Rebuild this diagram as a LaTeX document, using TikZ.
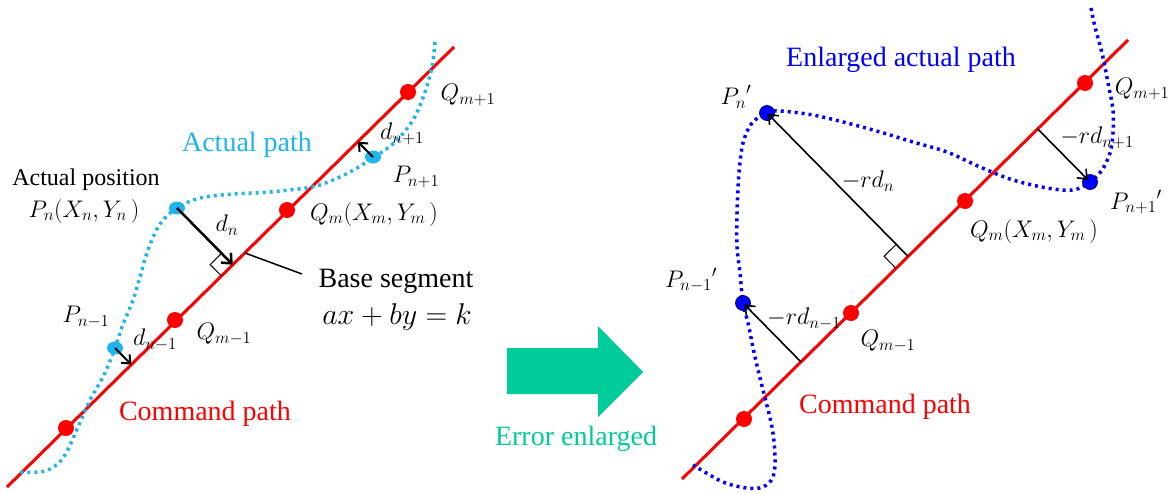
\documentclass[tikz,border=0pt]{standalone}
\usepackage{fix-cm}
\usepackage{fontspec}
\setmainfont{Liberation Serif}
\usetikzlibrary{arrows.meta,calc,shapes.geometric}
\definecolor{cmdred}{RGB}{255,0,0}
\definecolor{actblue}{RGB}{30,180,240}
\definecolor{enlblue}{RGB}{0,0,255}
\definecolor{arrteal}{RGB}{0,204,153}
\tikzset{
  lab/.style={font=\fontsize{24}{28}\selectfont, inner sep=0pt},
  big/.style={font=\fontsize{28}{32}\selectfont, inner sep=0pt},
  rdot/.style={circle, fill=cmdred, minimum size=16pt, inner sep=0pt},
  cdot/.style={ellipse, fill=actblue, minimum width=16pt, minimum height=13pt, inner sep=0pt},
  bdot/.style={circle, fill=enlblue, draw=black!60!blue, line width=0.8pt, minimum size=15pt, inner sep=0pt},
  cmdline/.style={draw=cmdred, line width=3pt},
  actcurve/.style={draw=actblue, line width=3.5pt, dash pattern=on 3pt off 4pt},
  enlcurve/.style={draw=enlblue, line width=3.5pt, dash pattern=on 3pt off 4pt},
  thickarr/.style={draw=black, line width=2.5pt, -{Straight Barb[length=8pt,width=14pt]}},
  midarr/.style={draw=black, line width=2pt, -{Straight Barb[length=7pt,width=12pt]}},
  thinarr/.style={draw=black, line width=1.6pt, -{Straight Barb[length=8pt,width=13pt]}},
  rightangle/.style={draw=black, line width=1pt},
}
\begin{document}
\begin{tikzpicture}[x=1pt,y=-1pt]
\useasboundingbox (0,0) rectangle (1174,493);

% ================= LEFT PANEL =================
\coordinate (LA) at (7,487);
\coordinate (LB) at (454,47);
\draw[cmdline] (LA) -- (LB);

\draw[actcurve] plot[smooth, tension=0.55] coordinates {
  (435,42) (432,67) (424,95) (413,120) (395,142) (373,158) (350,172) (333,180)
  (312,187) (270,192) (233,194) (200,198) (177,208) (160,224) (148,250) (140,277)
  (133,300) (122,327) (115,348) (104,375) (90,400) (78,427) (63,458) (45,471) (17,472)};

\node[rdot] (Qp1) at (408,92) {};
\node[rdot] (Qm) at (287,210) {};
\node[rdot] (Qm1) at (175,320) {};
\node[rdot] (Qm2) at (66,428) {};

\node[cdot] (Pn) at (177,208) {};
\node[cdot] (Pp1) at (373,157) {};
\node[cdot] (Pm1) at (115,348) {};

\coordinate (Fn) at ($(LA)!(Pn.center)!(LB)$);
\coordinate (Fp1) at ($(LA)!(Pp1.center)!(LB)$);
\coordinate (Fm1) at ($(LA)!(Pm1.center)!(LB)$);

\coordinate (sqa) at ($(Fn)!16pt!(LA)$);
\coordinate (sqb) at ($(Fn)!16pt!(Pn.center)$);
\draw[rightangle] (sqa) -- ($(sqa)+(sqb)-(Fn)$) -- (sqb);

\draw[thickarr] (Pn.center) -- (Fn);
\draw[midarr] (Pp1.center) -- (Fp1);
\draw[midarr] (Pm1.center) -- (Fm1);

\coordinate (bsA) at (245,253);
\coordinate (bsB) at (302,274);
\draw[black, line width=1.5pt] (bsA) -- (bsB);

\node[big, text=actblue] (tAct) at (247,145) {Actual path};
\node[font=\fontsize{24}{28}\selectfont, inner sep=0pt] (tPos) at (86,180) {Actual position};
\node[lab] (tPn) at (84,211) {$P_n(X_n,Y_n\,)$};
\node[lab] (tQp1) at (468,95) {$Q_{m+1}$};
\node[lab] (tdp1) at (402,134) {$d_{n+1}$};
\node[lab] (tPp1) at (416,177) {$P_{n+1}$};
\node[lab] (tQm) at (374,214) {$Q_m(X_m,Y_m\,)$};
\node[lab] (tdn) at (227,225) {$d_n$};
\node[big] (tBase) at (396,281) {Base segment};
\node[font=\fontsize{30}{34}\selectfont, inner sep=0pt] (tEq) at (397,317) {$ax+by=k$};
\node[lab] (tPm1) at (86,317) {$P_{n-1}$};
\node[lab] (tdm1) at (155,340) {$d_{n-1}$};
\node[lab] (tQm1) at (224,334) {$Q_{m-1}$};
\node[big, text=cmdred] (tCmdL) at (205,414) {Command path};

% ================= MIDDLE ARROW =================
\fill[arrteal] (507,348) -- (598,348) -- (598,326) -- (643,372) -- (598,417)
  -- (598,394) -- (507,394) -- cycle;
\node[big, text=arrteal] (tErr) at (576,439) {Error enlarged};

% ================= RIGHT PANEL =================
\coordinate (RA) at (682,479);
\coordinate (RB) at (1128,40);
\draw[cmdline] (RA) -- (RB);

\draw[enlcurve] plot[smooth, tension=0.55] coordinates {
  (1091,8) (1095,27) (1102,53) (1108,83) (1113,110) (1113,133) (1110,153) (1102,170)
  (1090,182) (1073,190) (1047,188) (1013,180) (980,167) (947,152) (913,142) (880,132)
  (847,123) (813,115) (780,111) (767,113) (752,123) (743,143) (739,173) (737,213)
  (737,247) (740,273) (743,303) (748,323) (755,357) (763,390) (772,427) (775,457)
  (773,477) (763,487) (747,488) (723,482) (693,465)};

\node[rdot] (RQp1) at (1085,83) {};
\node[rdot] (RQm) at (965,201) {};
\node[rdot] (RQm1) at (851,313) {};
\node[rdot] (RQm2) at (744,419) {};

\node[bdot] (Rn) at (767,113) {};
\node[bdot] (Rp1) at (1090,182) {};
\node[bdot] (Rm1) at (743,303) {};

\coordinate (RFn) at ($(RA)!(Rn.center)!(RB)$);
\coordinate (RFp1) at ($(RA)!(Rp1.center)!(RB)$);
\coordinate (RFm1) at ($(RA)!(Rm1.center)!(RB)$);

\coordinate (rsqa) at ($(RFn)!17pt!(RA)$);
\coordinate (rsqb) at ($(RFn)!17pt!(Rn.center)$);
\draw[rightangle] (rsqa) -- ($(rsqa)+(rsqb)-(RFn)$) -- (rsqb);

\draw[thinarr, shorten >=1pt] (RFn) -- (Rn.center);
\draw[thinarr, shorten >=3pt] (RFp1) -- (Rp1.center);
\draw[thinarr, shorten >=2pt] (RFm1) -- (Rm1.center);

\node[big, text=enlblue] (tEnl) at (901,60) {Enlarged actual path};
\node[lab] (tRn) at (736,97) {${P_n}'$};
\node[lab] (tRQp1) at (1142,89) {$Q_{m+1}$};
\node[lab] (tRdp1) at (1097,138) {$-rd_{n+1}$};
\node[lab] (tRdn) at (868,181) {$-rd_n$};
\node[lab] (tRp1) at (1136,202) {${P_{n+1}}'$};
\node[lab] (tRQm) at (1034,231) {$Q_m(X_m,Y_m\,)$};
\node[lab] (tRm1) at (691,280) {${P_{n-1}}'$};
\node[lab] (tRdm1) at (804,319) {$-rd_{n-1}$};
\node[lab] (tRQm1) at (888,341) {$Q_{m-1}$};
\node[big, text=cmdred] (tCmdR) at (885,407) {Command path};
\end{tikzpicture}
\end{document}
